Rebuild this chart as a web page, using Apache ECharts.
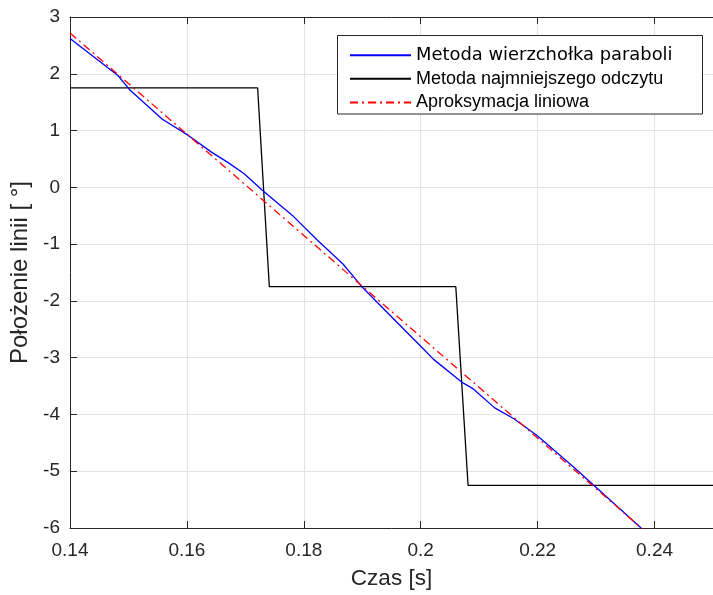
<!DOCTYPE html>
<html>
<head>
<meta charset="utf-8">
<script src="https://cdn.jsdelivr.net/npm/echarts@6/dist/echarts.min.js"></script>
<style>
  html, body { margin: 0; padding: 0; background: #ffffff; }
  #chart { width: 713px; height: 595px; }
</style>
</head>
<body>
<div id="chart"></div>
<script>
// Series names
const seriesNames = ['Metoda wierzchołka paraboli', 'Metoda najmniejszego odczytu', 'Aproksymacja liniowa'];

// Parabola-vertex method: time [s] and line position [deg]
const paraX = [0.1400, 0.1482, 0.1502, 0.1558, 0.1603, 0.1642, 0.1670, 0.1698, 0.1729, 0.1780,
               0.1822, 0.1839, 0.1867, 0.1884, 0.1901, 0.1952, 0.2000, 0.2022, 0.2070, 0.2090,
               0.2126, 0.2160, 0.2200, 0.2261, 0.2295, 0.2377];
const paraY = [2.62, 1.97, 1.72, 1.20, 0.91, 0.62, 0.44, 0.24, -0.05, -0.49,
               -0.92, -1.08, -1.35, -1.56, -1.77, -2.30, -2.80, -3.03, -3.43, -3.55,
               -3.88, -4.08, -4.38, -4.92, -5.24, -6.00];

// Minimum-reading method (stepped)
const minReadX = [0.1400, 0.1721, 0.1741, 0.2060, 0.2081, 0.2500];
const minReadY = [1.75, 1.75, -1.75, -1.75, -5.25, -5.25];

// Linear approximation
const fitX = [0.1400, 0.2400];
const fitY = [2.72, -6.20];

// Axis ranges and tick steps
const xRange = [0.14, 0.25];
const xStep = 0.02;
const yRange = [-6, 3];
const yStep = 1;

const pairs = (xs, ys) => xs.map((x, i) => [x, ys[i]]);

const axisColor = '#262626';
const tickFont = { fontFamily: 'Liberation Sans, Arial, sans-serif', fontSize: 19, color: axisColor };

const chart = echarts.init(document.getElementById('chart'), null, { renderer: 'canvas' });

chart.setOption({
  animation: false,
  backgroundColor: '#ffffff',
  grid: { left: 70, top: 17, right: -8, bottom: 63.3, containLabel: false },
  graphic: [{
    type: 'rect',
    shape: { x: 337.5, y: 35.5, width: 365, height: 78.5 },
    style: { fill: '#ffffff', stroke: '#262626', lineWidth: 1 },
    z: 100
  }],
  legend: {
    orient: 'vertical',
    left: 337,
    top: 35.7,
    padding: [10.5, 12, 7, 12],
    itemWidth: 61,
    itemHeight: 14,
    itemGap: 5.6,
    z: 101,
    itemStyle: { opacity: 0 },
    textStyle: { fontFamily: 'Liberation Sans, Arial, sans-serif', fontSize: 18, color: '#000000' },
    data: [
      { name: seriesNames[0], textStyle: { fontFamily: 'DejaVu Sans, sans-serif', fontSize: 17.9 } },
      { name: seriesNames[1] },
      { name: seriesNames[2] }
    ]
  },
  xAxis: [{
    type: 'value',
    min: xRange[0], max: xRange[1], interval: xStep,
    name: 'Czas [s]',
    nameLocation: 'middle',
    nameGap: 39,
    nameTextStyle: { fontFamily: 'Liberation Sans, Arial, sans-serif', fontSize: 22.5, color: axisColor },
    axisLine: { show: true, onZero: false, lineStyle: { color: axisColor, width: 1 } },
    axisTick: { show: true, inside: true, length: 7, lineStyle: { color: axisColor } },
    axisLabel: Object.assign({ margin: 13.5, showMaxLabel: false }, tickFont),
    splitLine: { show: true, lineStyle: { color: '#e3e3e3', width: 1 } }
  }, {
    type: 'value',
    position: 'top',
    min: xRange[0], max: xRange[1], interval: xStep,
    axisLine: { show: true, onZero: false, lineStyle: { color: axisColor, width: 1 } },
    axisTick: { show: true, inside: true, length: 7, lineStyle: { color: axisColor } },
    axisLabel: { show: false },
    splitLine: { show: false }
  }],
  yAxis: {
    type: 'value',
    min: yRange[0], max: yRange[1], interval: yStep,
    name: 'Położenie linii [ °]',
    nameLocation: 'middle',
    nameGap: 37,
    nameTextStyle: { fontFamily: 'Liberation Sans, Arial, sans-serif', fontSize: 24, color: axisColor },
    axisLine: { show: true, onZero: false, lineStyle: { color: axisColor, width: 1 } },
    axisTick: { show: true, inside: true, length: 7, lineStyle: { color: axisColor } },
    axisLabel: Object.assign({ margin: 10 }, tickFont),
    splitLine: { show: true, lineStyle: { color: '#e3e3e3', width: 1 } }
  },
  series: [
    {
      name: seriesNames[0], type: 'line', data: pairs(paraX, paraY),
      symbol: 'none', smooth: false, z: 3,
      lineStyle: { color: '#0000ff', width: 1.3 }, itemStyle: { color: '#0000ff' }
    },
    {
      name: seriesNames[1], type: 'line', data: pairs(minReadX, minReadY),
      symbol: 'none', z: 2,
      lineStyle: { color: '#000000', width: 1.3 }, itemStyle: { color: '#000000' }
    },
    {
      name: seriesNames[2], type: 'line', data: pairs(fitX, fitY),
      symbol: 'none', z: 4,
      lineStyle: { color: '#ff0000', width: 1.3, type: [8, 4, 2, 4] }, itemStyle: { color: '#ff0000' }
    }
  ]
});
</script>
</body>
</html>
